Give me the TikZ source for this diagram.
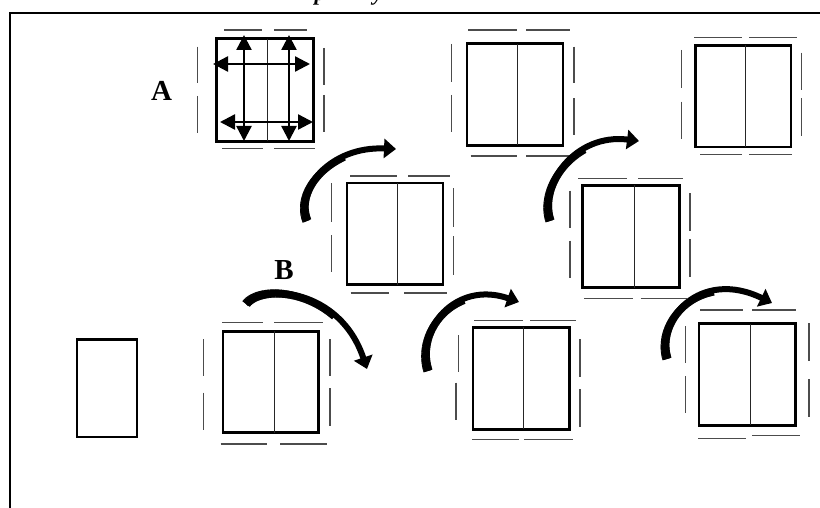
\documentclass[tikz,border=0pt]{standalone}
\usepackage{fontspec}
\setmainfont{Liberation Serif}
\usetikzlibrary{arrows.meta,decorations.markings}
% panel with a seam: left, top, right, bottom, seam x
\newcommand\drawpanel[5]{%
  \draw[panel] (#1,#2) rectangle (#3,#4);
  \draw[seam] (#5,#2) -- (#5,#4);}
\begin{document}
\begin{tikzpicture}[x=1pt,y=-1pt,
  panel/.style={line width=2.7pt, black},
  seam/.style={line width=1pt, black!85},
  guide/.style={line width=1.2pt, black!70},
  turn/.style={line width=6pt, -{Triangle[length=12pt,width=19pt]},
    postaction={decorate},
    decoration={markings,
      mark=between positions 0 and 0.6 step 0.8pt with {%
        \pgfmathsetmacro\hw{4.6-1.6*(\pgfkeysvalueof{/pgf/decoration/mark info/distance from start})/(0.6*\pgfdecoratedpathlength)}%
        \fill (0pt,-\hw pt) rectangle (1.2pt,\hw pt);}}},
  dbl/.style={line width=2.4pt, {Triangle[length=15pt,width=15pt]}-{Triangle[length=15pt,width=15pt]}},
  lbl/.style={font=\bfseries\fontsize{29}{29}\selectfont, inner sep=0pt, anchor=base}]
\useasboundingbox (0,0) rectangle (820,508);

% heading, mostly above the page
\node[font=\bfseries\itshape\fontsize{22}{22}\selectfont, inner sep=0pt, anchor=base] (hp) at (320,0.5) {p};
\node[font=\bfseries\itshape\fontsize{22}{22}\selectfont, inner sep=0pt, anchor=base] (hy) at (378,0.5) {y};

% frame
\draw[line width=2.3pt, line join=miter] (10,508) -- (10,13) -- (820,13);

% ---- panel A with its stretch directions
\drawpanel{216.3}{38.6}{313.7}{141.4}{267.7}
\draw[dbl] (244,35) -- (244,141);
\draw[dbl] (289,35) -- (289,141);
\draw[dbl] (213,64) -- (310,64);
\draw[dbl] (220,122) -- (313,122);
\draw[guide] (224,30) -- (261.7,30) (274,30) -- (306.7,30)
             (222,148.3) -- (263,148.3) (274,148.3) -- (315,148.3)
             (197.7,46.7) -- (197.7,83.3) (197.7,96) -- (197.7,133)
             (324,48) -- (324,85) (324,95) -- (324,131.7);
\node[lbl] (la) at (161.5,100.5) {A};

% ---- top middle panel
\drawpanel{467}{43.6}{563}{145.4}{517.3}
\draw[guide] (468,30) -- (517,30) (526,30) -- (570,30)
             (470.7,156) -- (517.3,156) (526,156) -- (571.7,156)
             (451.7,44) -- (451.7,81.7) (451.7,95) -- (451.7,131.7)
             (574,46.7) -- (574,83.3) (574,98.3) -- (574,135);

% ---- top right panel
\drawpanel{695.3}{45.3}{791}{147}{745.7}
\draw[guide] (694,37.7) -- (741.7,37.7) (749.3,37.7) -- (797.3,37.7)
             (700,154.3) -- (741.7,154.3) (749.3,154.3) -- (791.7,154.3)
             (681.7,50) -- (681.7,88.3) (681.7,101.7) -- (681.7,139.3)
             (801.7,52.7) -- (801.7,90) (801.7,98.3) -- (801.7,136);

% ---- middle row, left panel
\drawpanel{347}{183}{443}{284.7}{397.7}
\draw[guide] (350,176) -- (396.7,176) (408.3,176) -- (450,176)
             (350.7,293) -- (389.3,293) (404,293) -- (446.7,293)
             (331.7,183.3) -- (331.7,221.7) (331.7,235) -- (331.7,271.7)
             (453.3,188.3) -- (453.3,226.7) (453.3,236) -- (453.3,275);

% ---- middle row, right panel
\drawpanel{582.3}{185.3}{679.4}{287.7}{634}
\draw[guide] (578.3,178.3) -- (627.3,178.3) (638.3,178.3) -- (683.3,178.3)
             (584,298.3) -- (632.7,298.3) (640.7,298.3) -- (687.3,298.3)
             (570,190.7) -- (570,228.3) (570,240.7) -- (570,278.3)
             (690,193.3) -- (690,230.7) (690,239.3) -- (690,276.7);

% ---- bottom row: single leaf
\draw[panel] (77,339.6) rectangle (137,437);

% ---- bottom row, panel 1
\drawpanel{223}{331.3}{318.7}{432.7}{274}
\draw[guide] (222.3,322.3) -- (262.7,322.3) (274.3,322.3) -- (323.3,322.3)
             (220.7,444) -- (267.3,444) (280,444) -- (327.3,444)
             (203.3,339) -- (203.3,376) (203.3,392.7) -- (203.3,430)
             (330,339) -- (330,376) (330,388.3) -- (330,425.7);
\node[lbl] (lb) at (284,279.5) {B};

% ---- bottom row, panel 2
\drawpanel{473}{327.3}{569.4}{429.4}{523.7}
\draw[guide] (474,320.7) -- (523.3,320.7) (530,320.7) -- (576,320.7)
             (472.3,439.5) -- (519.3,439.5) (524,439.5) -- (573.3,439.5)
             (458.3,335) -- (458.3,371.7) (456,382.7) -- (456,420)
             (580,339.3) -- (580,376.7) (580,389.3) -- (580,426.7);

% ---- bottom row, panel 3
\drawpanel{699}{323.6}{795.4}{425.4}{750}
\draw[guide] (700,310) -- (743.3,310) (752.3,310) -- (796,310)
             (698.3,438.3) -- (745.7,438.3) (752.3,435.7) -- (800,435.7)
             (685.7,326) -- (685.7,363.3) (685.7,376) -- (685.7,413.3)
             (809,323.3) -- (809,360.7) (809,379.3) -- (809,416.7);

% ---- turning arrows
\draw[turn] (307,221) .. controls (294,190) and (330,146) .. (396,149);
\draw[turn] (550,221) .. controls (538,185) and (575,133) .. (639,141);
\draw[turn] (246,304) .. controls (262,283) and (340,288) .. (367,369);
\draw[turn] (428,371) .. controls (415,330) and (455,280) .. (519,302);
\draw[turn] (667,359) .. controls (655,320) and (700,268) .. (772,303);
\end{tikzpicture}
\end{document}
